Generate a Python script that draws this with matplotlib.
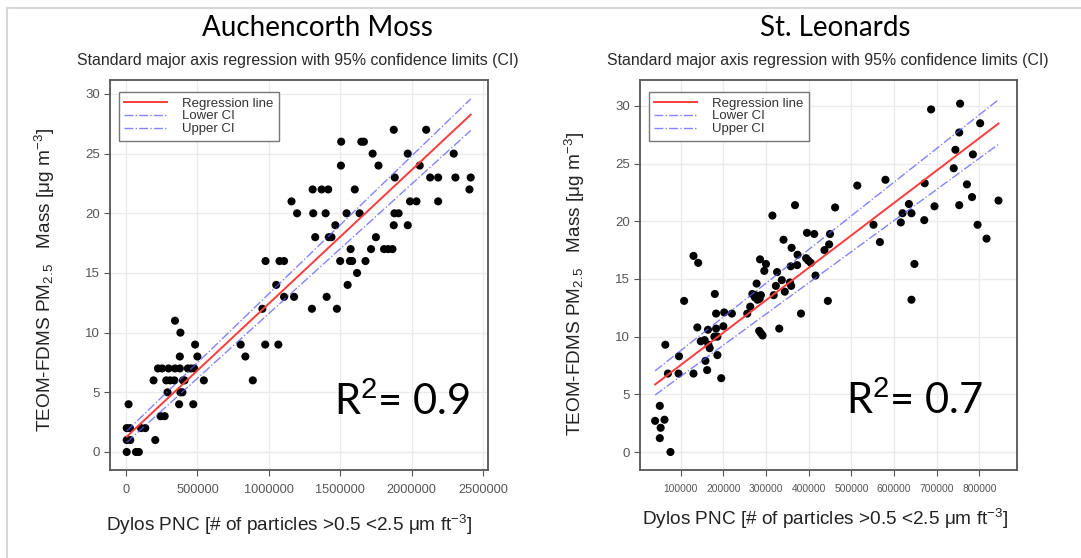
import matplotlib
matplotlib.use("Agg")
import matplotlib.pyplot as plt
from matplotlib.lines import Line2D
import numpy as np

plt.rcParams['font.family'] = ['Liberation Sans', 'DejaVu Sans']
plt.rcParams['mathtext.fontset'] = 'custom'
plt.rcParams['mathtext.rm'] = 'Liberation Sans'
plt.rcParams['mathtext.it'] = 'Liberation Sans:italic'

#%% data - Auchencorth Moss (x in thousands of particles)
am_x = [5, 70, 90, 5, 30, 205, 5, 28, 105, 135, 242, 271, 18, 372, 471,
        291, 381, 395, 193, 282, 309, 339, 399, 410, 545, 888,
        224, 253, 298, 343, 377, 433, 455, 478, 377, 500, 836,
        484, 803, 975, 1067, 381, 343, 955, 1302, 1477, 1107, 1177, 1405,
        1052, 1552, 1618, 977, 1075, 1107, 1500, 1568, 1584, 1677,
        1573, 1716, 1807, 1836, 1866, 1325, 1420, 1439, 1750,
        1466, 1875, 1973, 1198, 1311, 1398, 1545, 1636, 1880, 1909,
        1159, 1989, 2034, 2186, 1307, 1370, 1416, 1602, 2405,
        1882, 2130, 2186, 2307, 2414, 1505, 1768, 2057, 1727, 1973, 2295,
        1507, 1648, 1666, 1875, 2102]
am_y = [0, 0, 0, 1, 1, 1, 2, 2, 2, 2, 3, 3, 4, 4, 4,
        5, 5, 5, 6, 6, 6, 6, 6, 6, 6, 6,
        7, 7, 7, 7, 7, 7, 7, 7, 8, 8, 8,
        9, 9, 9, 9, 10, 11, 12, 12, 12, 13, 13, 13,
        14, 14, 15, 16, 16, 16, 16, 16, 16, 16,
        17, 17, 17, 17, 17, 18, 18, 18, 18,
        19, 19, 19, 20, 20, 20, 20, 20, 20, 20,
        21, 21, 21, 21, 22, 22, 22, 22, 22,
        23, 23, 23, 23, 23, 24, 24, 24, 25, 25, 25,
        26, 26, 26, 27, 27]

#%% data - St. Leonards (x in thousands)
sl_x = [76, 51, 40, 62, 53, 51, 64, 70, 95, 96, 108, 130, 139, 147, 156, 158,
        162, 164, 165, 168, 180, 183, 202, 220, 183, 200, 179, 186, 186, 195,
        256, 263, 278, 268, 275, 288, 280, 284, 288, 292, 318, 323, 331, 337,
        344, 356, 382, 416, 445, 130, 141,
        755, 687, 802, 753, 744, 785, 740, 672, 580, 514, 771, 783, 845, 695,
        753, 635, 620, 641, 616, 671, 796, 817, 552, 567, 648, 641, 462, 368,
        315, 396, 413, 450, 448, 437, 341, 360, 374, 394, 399, 405, 286, 300,
        296, 326, 358, 373, 359, 274, 285]
sl_y = [0.0, 1.2, 2.7, 2.8, 2.1, 4.0, 9.3, 6.8, 6.8, 8.3, 13.1, 6.8, 10.8, 9.6, 9.7, 7.9,
        7.1, 10.6, 9.3, 9.0, 13.7, 12.0, 12.1, 12.0, 10.7, 10.9, 10.0, 10.0, 8.4, 6.4,
        12.0, 12.6, 14.6, 13.7, 13.6, 13.6, 13.2, 10.5, 10.3, 10.1, 13.6, 14.4, 10.7, 14.9,
        13.9, 14.7, 12.0, 15.3, 13.1, 17.0, 16.4,
        30.2, 29.7, 28.5, 27.7, 26.2, 25.8, 24.6, 23.3, 23.6, 23.1, 23.2, 22.1, 21.8, 21.3,
        21.4, 21.5, 20.7, 20.7, 19.9, 20.1, 19.7, 18.5, 19.7, 18.2, 16.3, 13.2, 21.2, 21.4,
        20.5, 19.0, 18.9, 18.9, 18.0, 17.5, 18.4, 17.7, 17.1, 16.8, 16.6, 16.4, 16.7, 16.3,
        15.7, 15.6, 16.1, 16.2, 14.4, 13.4, 13.3]

# intercept, slope (per particle) : regression, lower CI, upper CI
am_fit = {'reg': (1.23, 11.2e-6), 'low': (0.75, 10.85e-6), 'up': (1.7, 11.55e-6)}
sl_fit = {'reg': (4.73, 28.1e-6), 'low': (3.86, 27.0e-6), 'up': (5.87, 29.2e-6)}

am_xticks = [0, 500000, 1000000, 1500000, 2000000, 2500000]
sl_xticks = [100000, 200000, 300000, 400000, 500000, 600000, 700000, 800000]
yticks = [0, 5, 10, 15, 20, 25, 30]

#%% figure
W, H = 1081, 558
fig = plt.figure(figsize=(W/100, H/100), dpi=100)
fx = lambda px: px / W
fy = lambda py: 1 - py / H

# light frame lines
fig.add_artist(Line2D([fx(7), 1], [fy(8), fy(8)], color='#d8d8d8', lw=1.5))
fig.add_artist(Line2D([fx(7), fx(7)], [fy(8), 0], color='#d8d8d8', lw=1.5))

def panel(left, right, x, y, fit, xticks, xlim, ylim, xtick_size):
    ax = fig.add_axes([fx(left), fy(470), fx(right - left), fy(80) - fy(470)])
    x = np.array(x) * 1000.0
    y = np.array(y)
    ax.grid(True, color='#ebebeb', lw=1)
    ax.set_axisbelow(True)
    ax.scatter(x, y, s=34, c='black', zorder=3, edgecolors='none')
    xs = np.linspace(x.min(), x.max(), 50)
    a, b = fit['reg']
    ax.plot(xs, a + b*xs, color='#ff3b3b', lw=1.4, label='Regression line', zorder=4)
    a, b = fit['low']
    ax.plot(xs, a + b*xs, color='#5a5aff', lw=1.0, ls='-.', alpha=0.75, label='Lower CI', zorder=4)
    a, b = fit['up']
    ax.plot(xs, a + b*xs, color='#5a5aff', lw=1.0, ls='-.', alpha=0.75, label='Upper CI', zorder=4)
    ax.set_xlim(xlim)
    ax.set_ylim(ylim)
    ax.set_xticks(xticks)
    ax.set_xticklabels([str(t) for t in xticks])
    ax.set_yticks(yticks)
    for s in ax.spines.values():
        s.set_color('#555555')
        s.set_linewidth(1.3)
    ax.tick_params(axis='x', labelsize=xtick_size, colors='#555555', length=4, pad=6)
    ax.tick_params(axis='y', labelsize=9.5, colors='#555555', length=4, pad=3)
    leg = ax.legend(loc='upper left', bbox_to_anchor=(0.024, 0.969), borderaxespad=0,
                    fancybox=False, framealpha=1, edgecolor='#777777', fontsize=9.5,
                    labelspacing=0.05, handlelength=3.2, handletextpad=1.2,
                    borderpad=0.4)
    leg.get_frame().set_linewidth(1.0)
    for t in leg.get_texts():
        t.set_color('#333333')
    return ax

ax1 = panel(110, 488, am_x, am_y, am_fit, am_xticks, (-112000, 2535000), (-1.51, 31.17), 9.2)
ax2 = panel(640, 1017, sl_x, sl_y, sl_fit, sl_xticks, (4600, 888400), (-1.56, 32.25), 7.4)

# titles
fig.text(fx(317), fy(28), 'Auchencorth Moss', family='Lato', fontsize=20, ha='center', va='center')
fig.text(fx(835), fy(28), 'St. Leonards', family='Lato', fontsize=20, ha='center', va='center')
sub = 'Standard major axis regression with 95% confidence limits (CI)'
fig.text(fx(298), fy(61), sub, fontsize=11.4, ha='center', va='center', color='#2a2a2a')
fig.text(fx(828), fy(61), sub, fontsize=11.4, ha='center', va='center', color='#2a2a2a')

# axis labels
xl = 'Dylos PNC [# of particles >0.5 <2.5 μm ft$^{-3}$]'
yl = 'TEOM-FDMS PM$_{2.5}$   Mass [μg m$^{-3}$]'
fig.text(fx(289), fy(525), xl, fontsize=13.7, ha='center', va='center', color='#222222')
fig.text(fx(825), fy(519), xl, fontsize=13.7, ha='center', va='center', color='#222222')
fig.text(fx(45), fy(280), yl, fontsize=13.7, ha='center', va='center', rotation=90, color='#222222')
fig.text(fx(575), fy(284), yl, fontsize=13.7, ha='center', va='center', rotation=90, color='#222222')

# R squared
fig.text(fx(402), fy(415), 'R$^{2}$= 0.9', family='Lato', fontsize=30, ha='center', va='baseline')
fig.text(fx(915), fy(414), 'R$^{2}$= 0.7', family='Lato', fontsize=30, ha='center', va='baseline')

plt.savefig('out.png', dpi=100)
